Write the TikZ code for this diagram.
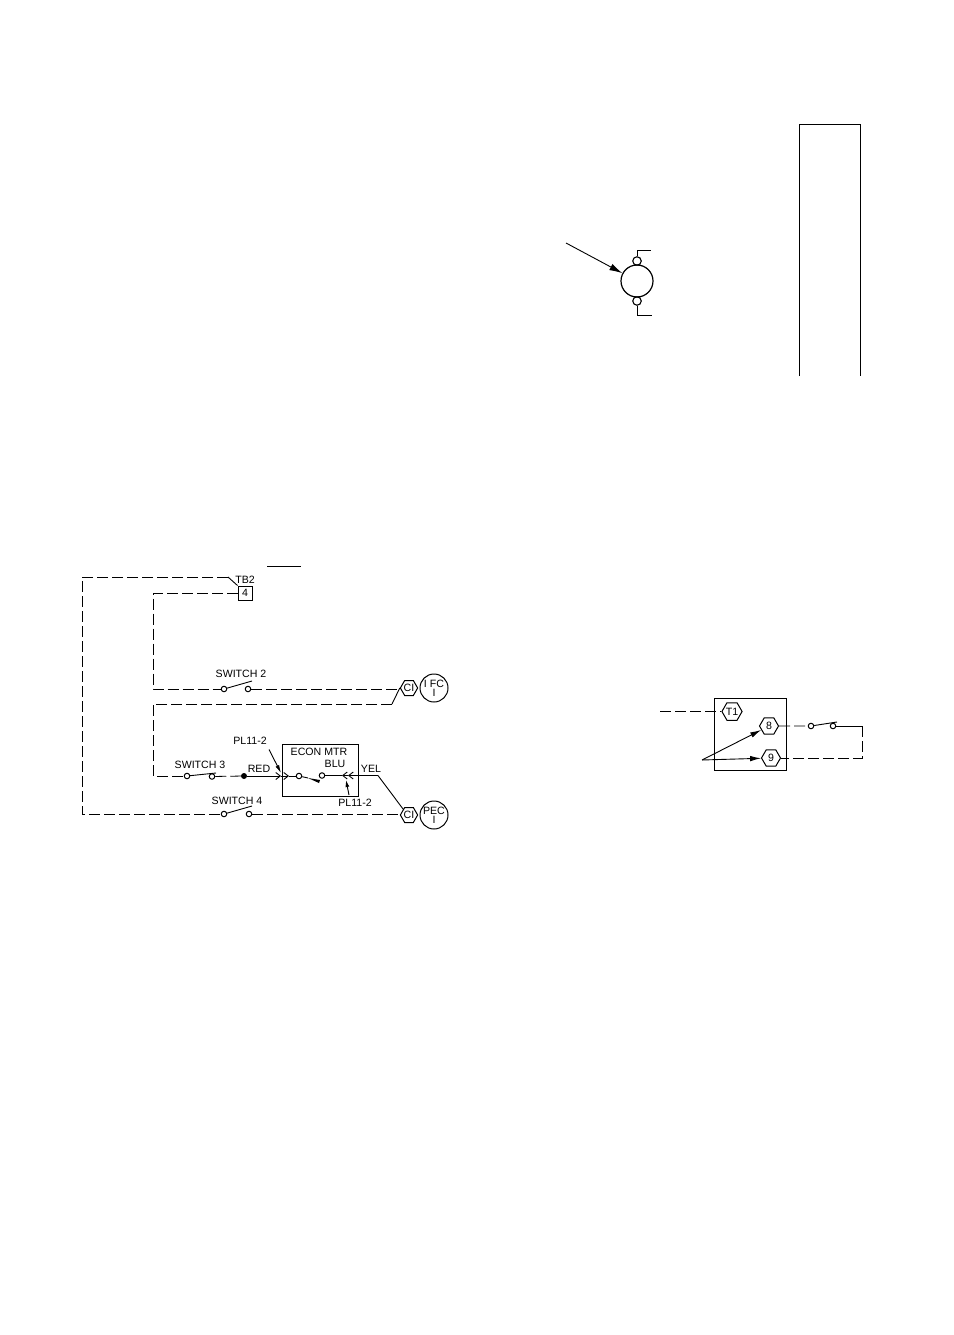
\documentclass[tikz,border=0pt]{standalone}
\usepackage{fontspec}
\setmainfont{Liberation Sans}
\usetikzlibrary{shapes.geometric,arrows.meta}
\tikzset{
  wire/.style={line width=0.9pt,black},
  dashwire/.style={line width=0.8pt,black,dash pattern=on 11pt off 4pt},
  solidarrow/.style={wire,-{Latex[length=13pt,width=7pt]}},
  chev/.style={wire,-{Straight Barb[length=4.5pt,width=7pt]}},
  lbl/.style={font=\fontsize{10.6pt}{12pt}\selectfont,inner sep=0pt},
  term/.style={circle,draw,line width=1pt,fill=white,inner sep=0pt,minimum size=5.5pt},
  hex/.style={regular polygon,regular polygon sides=6,draw,line width=1pt,fill=white,inner sep=0pt,font=\fontsize{10.6pt}{12pt}\selectfont},
  hexs/.style={hex,minimum size=17pt},
  hexb/.style={hex,minimum size=19pt},
  load/.style={circle,draw,line width=1pt,fill=white,inner sep=0pt,minimum size=28pt,align=center,font=\fontsize{10.6pt}{10pt}\selectfont},
  boxed/.style={draw,line width=1pt,inner sep=0pt}
}
\begin{document}
\begin{tikzpicture}[x=1pt,y=-1pt]
\useasboundingbox (0,0) rectangle (953,1335);

% tall open panel
\coordinate (pa) at (799,376);
\coordinate (pb) at (799,124.5);
\coordinate (pc) at (860.5,124.5);
\coordinate (pd) at (860.5,376);
\draw[line width=1pt] (pa) -- (pb) -- (pc) -- (pd);

% motor
\node[circle,draw,line width=1.2pt,minimum size=32pt,inner sep=0pt] (mot) at (637,281) {};
\node[circle,draw,line width=1.1pt,minimum size=8.5pt,inner sep=0pt] (mt) at (637,261) {};
\node[circle,draw,line width=1.1pt,minimum size=8.5pt,inner sep=0pt] (mb) at (637,301) {};
\coordinate (mt1) at (637,250);
\coordinate (mt2) at (651,250);
\coordinate (mb1) at (637,315);
\coordinate (mb2) at (652,315);
\coordinate (marr) at (566,243);
\draw[wire] (mt.north) -- (mt1) -- (mt2);
\draw[wire] (mb.south) -- (mb1) -- (mb2);
\draw[solidarrow] (marr) -- (mot);

% overline
\coordinate (ol1) at (267,566.5);
\coordinate (ol2) at (301,566.5);
\draw[wire] (ol1) -- (ol2);

% TB2
\node[boxed,minimum width=14pt,minimum height=14pt,lbl,draw] (tb4) at (245,593) {4};
\node[lbl] (tb2) at (245,579.5) {TB2};

% loads
\node[load] (ifc) at (434,688) {I FC\\[-1pt]I};
\node[load] (pec) at (434,815) {PEC\\[-1pt]I};
\node[hexs] (ci1) at (409,688) {CI};
\node[hexs] (ci2) at (409,815) {CI};

% outer loop
\coordinate (o1) at (228,577);
\coordinate (o2) at (82,577);
\coordinate (o3) at (82,814);
\node[term] (s4a) at (224,814) {};
\node[term] (s4b) at (249,814) {};
\coordinate (s4t) at (252,806);
\node[lbl] at (237,800.5) {SWITCH 4};
\draw[wire] (tb4.north west) -- (o1);
\draw[dashwire] (o1) -- (o2) -- (o3) -- (s4a);
\draw[dashwire] (s4b) -- (ci2.west |- s4b);
\draw[wire] (s4a) -- (s4t);

% switch 2 branch
\coordinate (t1) at (153,593);
\coordinate (t2) at (153,689);
\node[term] (s2a) at (224,689) {};
\node[term] (s2b) at (248,689) {};
\coordinate (s2t) at (252,681);
\node[lbl] (sw2) at (241,674) {SWITCH 2};
\draw[dashwire] (tb4) -- (t1) -- (t2) -- (s2a);
\draw[dashwire] (s2b) -- (ci1.west |- s2b);
\draw[wire] (s2a) -- (s2t);

% return to switch 3
\coordinate (r1) at (392,704);
\coordinate (r2) at (153,704);
\coordinate (r3) at (153,776);
\node[term] (s3a) at (187,776) {};
\node[term] (s3b) at (212,776.5) {};
\coordinate (s3t) at (216,773);
\node[lbl] (sw3) at (200,764.5) {SWITCH 3};
\node[circle,fill=black,inner sep=0pt,minimum size=6pt] (red) at (244,776) {};
\node[lbl] (redl) at (259,769) {RED};
\draw[wire] (ci1.west) -- (r1);
\draw[dashwire] (r1) -- (r2) -- (r3) -- (s3a);
\draw[dashwire] (s3b) -- (red);
\draw[wire] (s3a) -- (s3t);

% econ motor box
\node[boxed,minimum width=76pt,minimum height=52pt] (econ) at (320,770) {};
\node[lbl] (econl) at (319,752) {ECON MTR};
\node[lbl] (blu) at (335,764) {BLU};
\node[term] (ea) at (299,776) {};
\node[term] (eb) at (322,775.5) {};
\coordinate (c1) at (281,776);
\coordinate (c2) at (289,776);
\coordinate (c3) at (342,775.5);
\coordinate (c4) at (348,775.5);
\coordinate (y1) at (378,775.5);
\draw[chev] (red) -- (c1);
\draw[chev] (c1) -- (c2);
\draw[wire] (c2) -- (ea);
\draw[wire] (eb) -- (c3);
\draw[chev] (y1) -- (c4);
\draw[chev] (c4) -- (c3);
\draw[wire] (y1) -- (ci2.north west);
\node[lbl] (yel) at (371,768.5) {YEL};
% blade
\coordinate (bl1) at (308,778);
\coordinate (bl2) at (320,780);
\coordinate (bl3) at (319,783);
\draw[wire] (ea) -- (bl1);
\fill (bl1) -- (bl2) -- (bl3) -- cycle;

% plug labels
\node[lbl] (pl1) at (250,741) {PL11-2};
\coordinate (pl1a) at (269,749.5);
\coordinate (pl1b) at (281,773);
\draw[wire,-{Latex[length=8pt,width=4pt]}] (pl1a) -- (pl1b);
\node[lbl] (pl2) at (355,803) {PL11-2};
\coordinate (pl2a) at (349,795);
\coordinate (pl2b) at (346,780);
\draw[wire,-{Latex[length=7pt,width=4pt]}] (pl2a) -- (pl2b);

% right diagram
\node[boxed,minimum width=72pt,minimum height=72pt] (rbox) at (750,734) {};
\node[hexb] (h1) at (732,711.5) {T1};
\node[hexb] (h8) at (769,726) {8};
\node[hexb] (h9) at (771,758) {9};
\coordinate (in) at (660,711.5);
\draw[dashwire] (in) -- (h1);
\coordinate (src) at (702,760);
\draw[wire,-{Latex[length=11pt,width=5.5pt]}] (src) -- (h8);
\draw[wire,-{Latex[length=11pt,width=5.5pt]}] (src) -- (h9);
\node[term] (s8a) at (811,726) {};
\node[term] (s8b) at (833,726) {};
\coordinate (s8t) at (837,722);
\coordinate (e1) at (862,726);
\coordinate (e2) at (862,758);
\draw[dashwire] (h8) -- (s8a);
\draw[wire] (s8a) -- (s8t);
\draw[wire] (s8b) -- (e1);
\draw[dashwire] (e1) -- (e2) -- (h9);
\end{tikzpicture}
\end{document}
